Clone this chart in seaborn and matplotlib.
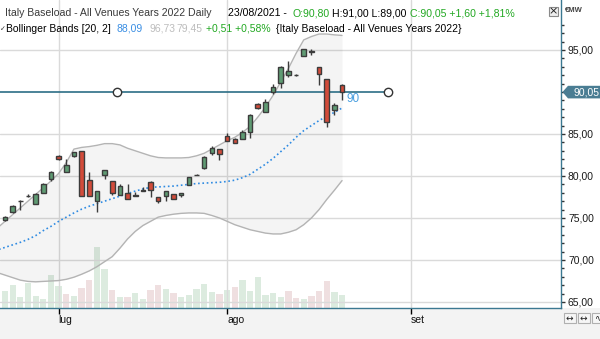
import numpy as np
import pandas as pd
import matplotlib
matplotlib.use("Agg")
import matplotlib.pyplot as plt
from matplotlib.patches import Rectangle, Polygon
from matplotlib.ticker import FixedLocator, FuncFormatter
import seaborn as sns

sns.set_theme(style="white")
plt.rcParams["font.family"] = ["Liberation Sans", "DejaVu Sans"]

# Italy Baseload - All Venues Years 2022, daily sessions 22/06/2021 .. 23/08/2021
open_ = [74.75, 75.75, 77.02, 77.60, 76.63, 77.94, 79.68, 82.38, 80.52, 82.42,
         82.94, 79.49, 77.06, 80.16, 79.37, 77.78, 77.94, 77.62, 78.18, 79.25,
         77.46, 77.66, 77.82, 77.70, 78.97, 80.10, 80.99, 82.70, 83.18, 84.73,
         84.37, 84.37, 85.20, 88.57, 87.58, 90.04, 91.04, 91.99, 92.00, 94.25,
         94.80, 92.94, 91.59, 87.90, 90.80]
high = [75.20, 76.60, 77.12, 77.86, 77.94, 79.20, 80.63, 82.50, 81.99, 82.90,
        82.94, 80.48, 78.18, 80.67, 79.37, 79.05, 79.05, 78.14, 78.69, 79.40,
        77.46, 78.18, 77.82, 77.94, 79.84, 80.28, 82.40, 83.55, 83.18, 85.08,
        84.55, 85.45, 87.35, 88.73, 89.17, 90.95, 93.10, 93.73, 92.20, 95.08,
        95.10, 92.94, 91.59, 88.73, 91.00]
low = [74.60, 75.56, 75.95, 77.46, 76.63, 77.94, 79.44, 81.90, 80.52, 82.30,
       77.66, 77.62, 75.76, 79.60, 77.78, 77.78, 77.23, 77.62, 78.18, 77.46,
       76.75, 77.00, 77.30, 77.46, 78.97, 80.08, 80.85, 82.50, 81.90, 84.13,
       83.93, 84.37, 84.56, 87.94, 87.58, 89.72, 90.44, 91.83, 91.85, 94.25,
       94.40, 90.83, 85.80, 87.26, 89.00]
close = [75.08, 76.43, 77.08, 77.66, 77.82, 79.01, 80.52, 81.99, 81.27, 82.82,
         77.66, 77.62, 78.18, 80.67, 77.94, 78.77, 77.23, 77.66, 78.38, 78.30,
         77.06, 78.18, 77.30, 77.94, 79.84, 80.12, 82.23, 83.37, 82.66, 84.13,
         83.93, 85.20, 87.22, 88.10, 88.81, 90.63, 92.94, 92.46, 92.02, 95.08,
         94.82, 92.11, 86.47, 88.45, 90.05]
volume = [50, 68, 32, 76, 35, 26, 98, 65, 41, 35,
          59, 83, 182, 116, 53, 32, 32, 44, 26, 53,
          68, 56, 44, 32, 38, 56, 71, 47, 41, 53,
          62, 83, 50, 92, 38, 44, 32, 50, 29, 26,
          35, 50, 80, 47, 38]

# Bollinger Bands [20, 2], starting one session earlier (21/06/2021)
bb_upper = [73.8, 74.6, 75.4, 76.2, 77.0, 77.8, 78.6, 79.4, 80.3, 81.6,
            83.2, 83.4, 83.5, 83.65, 83.85, 83.85, 83.7, 83.3, 83.0, 82.7,
            82.4, 82.2, 82.15, 82.15, 82.15, 82.2, 82.4, 82.7, 83.2, 83.7,
            84.2, 84.6, 85.2, 85.9, 87.0, 88.2, 89.6, 91.2, 92.8, 94.6,
            96.2, 96.6, 96.9, 96.9, 96.8, 96.73]
bb_mid = [71.2, 71.5, 71.8, 72.1, 72.45, 72.9, 73.5, 74.0, 74.6, 75.1,
          75.6, 76.05, 76.4, 76.7, 77.0, 77.3, 77.6, 77.9, 78.2, 78.45,
          78.65, 78.7, 78.75, 78.8, 78.9, 79.0, 79.1, 79.15, 79.2, 79.25,
          79.35, 79.5, 79.8, 80.2, 80.8, 81.4, 82.1, 82.9, 83.7, 84.6,
          85.4, 86.0, 86.6, 87.1, 87.58, 88.09]
bb_lower = [68.5, 68.2, 67.9, 67.6, 67.45, 67.4, 67.45, 67.5, 67.55, 67.7,
            67.95, 68.3, 68.7, 69.2, 69.8, 70.4, 71.4, 72.5, 73.4, 74.1,
            74.6, 75.1, 75.3, 75.45, 75.55, 75.6, 75.6, 75.55, 75.3, 75.0,
            74.6, 74.2, 73.9, 73.6, 73.4, 73.2, 73.1, 73.1, 73.3, 73.6,
            74.2, 75.0, 76.0, 77.2, 78.3, 79.45]

month_labels = ["lug", "ago", "set"]
month_sessions = [7, 29, 53]
# 90,00 sits under the last-price flag, so the scale leaves it out
price_ticks = [65, 70, 75, 80, 85, 95]
level = 90.0
title = "Italy Baseload - All Venues Years 2022"
last_date = "23/08/2021"

# ---------------------------------------------------------------- helpers
W, H = 600, 339


def fmt(v):
    return f"{v:.2f}".replace(".", ",")


def sfmt(v):
    return f"{v:+.2f}".replace(".", ",")


def fxy(x, y):
    return x / W, 1 - y / H


o = np.array(open_)
h = np.array(high)
l = np.array(low)
c = np.array(close)
idx = np.arange(len(c))
band_idx = np.arange(len(bb_mid)) - 1

GREEN = "#5f9b73"
RED = "#d24b3a"
EDGE = "#3c3c3c"
TEAL = "#2c6e86"
SPINE = "#3b7891"

fig = plt.figure(figsize=(W / 100, H / 100), dpi=100)
fig.patch.set_facecolor("white")
fig.patches.append(Rectangle((0, 0), 1, 1 - 308 / H, transform=fig.transFigure,
                             facecolor="#f3f3f3", edgecolor="none", zorder=0))

rect = [0, 1 - 308 / H, 561 / W, 308 / H]
ax_vol = fig.add_axes(rect, zorder=1)
ax = fig.add_axes(rect, zorder=2)
ax.patch.set_visible(False)

xlim = (-0.653, 72.585)
ylim = (100.95 - 308 / 8.4, 100.95)

# volume, coloured by close-to-close change
chg = np.diff(c, prepend=o[0])
vol_df = pd.DataFrame({"session": idx, "volume": volume,
                       "dir": np.where(chg > 0, "up", "down")})
sns.barplot(data=vol_df, x="session", y="volume", hue="dir",
            palette={"up": "#dcebdf", "down": "#efdfe0"}, native_scale=True,
            width=0.82, dodge=False, saturation=1, legend=False,
            edgecolor="none", linewidth=0, ax=ax_vol)
ax_vol.set_xlim(*xlim)
ax_vol.set_ylim(0, 924)
ax_vol.axis("off")

# Bollinger band envelope
ax.fill_between(band_idx, bb_lower, bb_upper, color="black", alpha=0.045,
                linewidth=0, zorder=1)
sns.lineplot(x=band_idx, y=bb_upper, color="#b4b4b4", lw=1, ax=ax, zorder=2)
sns.lineplot(x=band_idx, y=bb_lower, color="#b4b4b4", lw=1, ax=ax, zorder=2)
sns.lineplot(x=band_idx, y=bb_mid, color="#2f8be2", lw=1.2,
             linestyle=(0, (1, 1.6)), ax=ax, zorder=2)

# horizontal level line with its two anchors
ax.plot([xlim[0], 50], [level, level], color=TEAL, lw=1.2, zorder=2.5)
ax.plot([14.6, 50], [level, level], "o", mfc="white", mec="#333333",
        ms=6, mew=1, zorder=5)
ax.text(44.55, level - 0.85, f"{level:g}", color="#4a9fe0", fontsize=8.5,
        va="center", ha="left", zorder=6)

# candles
up = c >= o
body_lo = np.minimum(o, c)
body_h = np.maximum(np.abs(c - o), 0.06)
ax.vlines(idx, l, h, color=EDGE, lw=1, zorder=3)
ax.bar(idx, body_h, bottom=body_lo, width=0.6,
       color=list(np.where(up, GREEN, RED)), edgecolor=EDGE, linewidth=1,
       zorder=4)

ax.set_xlim(*xlim)
ax.set_ylim(*ylim)
ax.set_xlabel("")
ax.set_ylabel("")

# grid and axes
ax.set_axisbelow(True)
ax.grid(True, color="#dadada", lw=1)
ax.yaxis.tick_right()
ax.set_yticks(price_ticks)
ax.yaxis.set_major_formatter(FuncFormatter(lambda v, p: fmt(v)))
ax.yaxis.set_minor_locator(FixedLocator(np.arange(65, 99)))
ax.tick_params(axis="y", which="major", right=True, length=3, width=1,
               color="#333333", pad=2, labelsize=7.5, labelcolor="#1a1a1a")
ax.tick_params(axis="y", which="minor", right=True, length=2.5, width=1,
               color="#333333")
ax.set_xticks(month_sessions)
ax.set_xticklabels(month_labels)
ax.tick_params(axis="x", bottom=True, length=4, width=1, color="black",
               pad=1, labelsize=7.5, labelcolor="#111111")
for lab in ax.get_xticklabels():
    lab.set_ha("left")
for s in ("left", "top"):
    ax.spines[s].set_visible(False)
for s in ("right", "bottom"):
    ax.spines[s].set_color(SPINE)
    ax.spines[s].set_linewidth(1)

# last-price flag on the price scale
flag = Polygon([fxy(562.5, 92.0), fxy(568, 85.8), fxy(600, 85.8),
                fxy(600, 98.4), fxy(568, 98.4)], closed=True,
               transform=fig.transFigure, facecolor="#4a7d93",
               edgecolor="none", zorder=10)
fig.patches.append(flag)
fig.text(*fxy(573, 92.3), fmt(c[-1]), color="white", fontsize=7.5,
         va="center", ha="left", zorder=11)
fig.text(*fxy(565, 10), "€MW", color="#444444", fontsize=5.5,
         fontweight="bold", va="center", ha="left")

# header lines
prev = c[-2]
segs1 = [
    (5, f"{title} Daily", "#3a3a3a"),
    (227.5, f"{last_date} -", "#000000"),
    (292.5, f"O:{fmt(o[-1])}", "#22a822"),
    (332.5, f"H:{fmt(h[-1])} L:{fmt(l[-1])}", "#000000"),
    (410.5, f"C:{fmt(c[-1])} {sfmt(c[-1] - prev)} "
            f"{sfmt((c[-1] - prev) / prev * 100)}%", "#22a822"),
]
for x, s, col in segs1:
    fig.text(*fxy(x, 16.5), s, color=col, fontsize=7.6, va="baseline",
             ha="left")
mchg = bb_mid[-1] - bb_mid[-2]
segs2 = [
    (6, "Bollinger Bands [20, 2]", "#000000"),
    (116.5, fmt(bb_mid[-1]), "#3a8ee3"),
    (150, fmt(bb_upper[-1]), "#bdbdbd"),
    (176.5, fmt(bb_lower[-1]), "#bdbdbd"),
    (206.5, f"{sfmt(mchg)} {sfmt(mchg / bb_mid[-2] * 100)}%", "#22a822"),
    (276.5, "{" + title + "}", "#000000"),
]
for x, s, col in segs2:
    fig.text(*fxy(x, 31.5), s, color=col, fontsize=7.5, va="baseline",
             ha="left")
fig.text(*fxy(-0.5, 29.5), "✓", color="#333333", fontsize=5,
         family="DejaVu Sans", va="center", ha="left")

# close box
fig.patches.append(Rectangle(fxy(549, 16), 9 / W, 9 / H,
                             transform=fig.transFigure, facecolor="#eeeeee",
                             edgecolor="#8a8a8a", lw=0.8, zorder=10))
fig.text(*fxy(553.5, 11.3), "×", color="#222222", fontsize=8,
         family="DejaVu Sans", va="center", ha="center", zorder=11)

# scale buttons
for bx, sym in ((563.5, "↔"), (577.5, "↔"), (591.5, "∿")):
    fig.patches.append(Rectangle(fxy(bx, 322.7), 12.5 / W, 9.5 / H,
                                 transform=fig.transFigure,
                                 facecolor="#f6f6f6", edgecolor="#b0b0b0",
                                 lw=0.8, zorder=10))
    fig.text(*fxy(bx + 6.2, 317.8), sym, color="#222222", fontsize=6.5,
             family=["DejaVu Sans", "Noto Sans"], va="center", ha="center",
             zorder=11)

# navigator strip
nav = fig.add_axes([425 / W, 0, 136 / W, 11 / H])
nav.set_xlim(-31.6, 45.1)
nav.set_ylim(74, 101)
nav.axvspan(-31.6, 0, color="#dedede", lw=0)
nav.axvspan(0, 45.1, color="#c8c8c8", lw=0)
sns.lineplot(x=idx, y=c, color="#555555", lw=0.8, ax=nav)
nav.set_xlabel("")
nav.set_ylabel("")
nav.axis("off")

fig.savefig("out.png", dpi=100)
